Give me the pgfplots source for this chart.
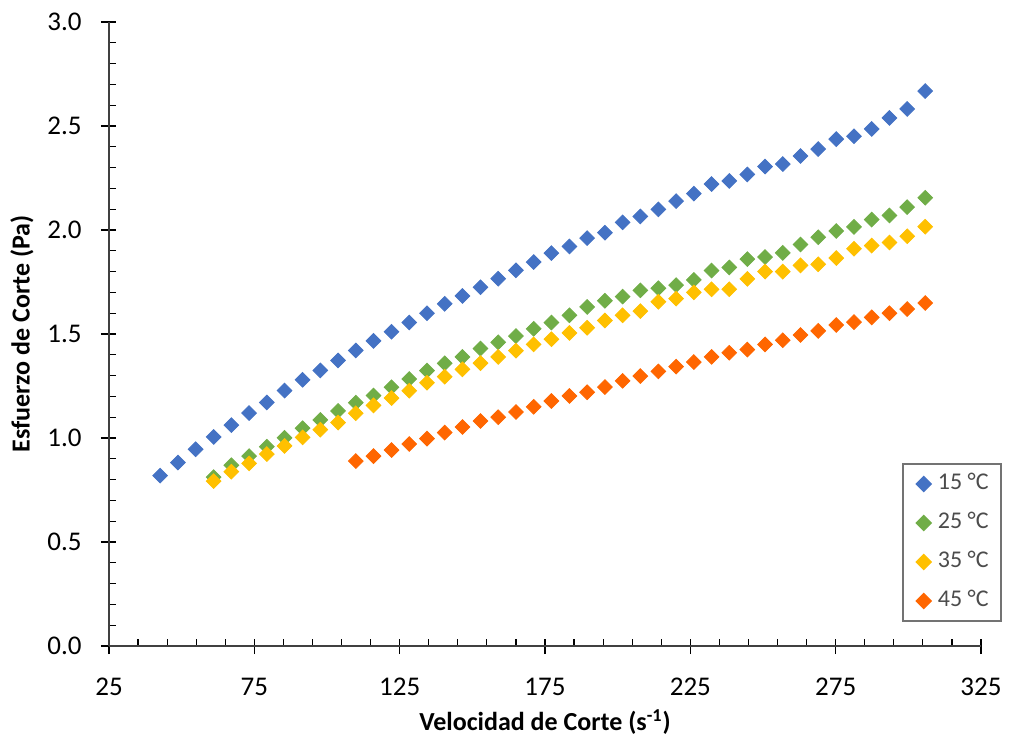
\documentclass[border=0pt]{standalone}
\usepackage{pgfplots}
\pgfplotsset{compat=1.18}
\usepackage{pgfplotstable}
\usepackage{fontspec}
\setmainfont{Carlito}

\definecolor{c15}{HTML}{4472C4}
\definecolor{c25}{HTML}{70AD47}
\definecolor{c35}{HTML}{FFC000}
\definecolor{c45}{HTML}{FF6600}

% Shear rate (1/s) vs. shear stress (Pa)
\pgfplotstableread{
x y
42.6 0.819
48.7 0.882
54.8 0.946
61.0 1.005
67.1 1.062
73.2 1.120
79.3 1.171
85.4 1.228
91.6 1.280
97.7 1.325
103.8 1.373
109.9 1.421
116.0 1.467
122.2 1.511
128.3 1.555
134.4 1.600
140.5 1.645
146.6 1.683
152.8 1.725
158.9 1.766
165.0 1.806
171.1 1.846
177.2 1.889
183.4 1.921
189.5 1.961
195.6 1.987
201.7 2.037
207.8 2.065
214.0 2.099
220.1 2.139
226.2 2.175
232.3 2.221
238.4 2.236
244.6 2.267
250.7 2.305
256.8 2.317
262.9 2.356
269.0 2.389
275.2 2.437
281.3 2.451
287.4 2.486
293.5 2.539
299.6 2.582
305.8 2.668
}\tabA

\pgfplotstableread{
x y
61.0 0.812
67.1 0.869
73.2 0.913
79.3 0.958
85.4 1.001
91.6 1.047
97.7 1.087
103.8 1.130
109.9 1.170
116.0 1.204
122.2 1.244
128.3 1.284
134.4 1.324
140.5 1.359
146.6 1.390
152.8 1.430
158.9 1.460
165.0 1.490
171.1 1.525
177.2 1.555
183.4 1.590
189.5 1.630
195.6 1.660
201.7 1.680
207.8 1.710
214.0 1.720
220.1 1.735
226.2 1.760
232.3 1.805
238.4 1.820
244.6 1.860
250.7 1.870
256.8 1.890
262.9 1.930
269.0 1.965
275.2 1.995
281.3 2.015
287.4 2.050
293.5 2.070
299.6 2.110
305.8 2.155
}\tabB

\pgfplotstableread{
x y
61.0 0.793
67.1 0.838
73.2 0.878
79.3 0.923
85.4 0.962
91.6 1.003
97.7 1.040
103.8 1.074
109.9 1.119
116.0 1.157
122.2 1.192
128.3 1.227
134.4 1.266
140.5 1.295
146.6 1.330
152.8 1.360
158.9 1.390
165.0 1.420
171.1 1.450
177.2 1.475
183.4 1.505
189.5 1.530
195.6 1.565
201.7 1.590
207.8 1.610
214.0 1.655
220.1 1.670
226.2 1.700
232.3 1.715
238.4 1.715
244.6 1.765
250.7 1.800
256.8 1.800
262.9 1.830
269.0 1.835
275.2 1.865
281.3 1.910
287.4 1.925
293.5 1.940
299.6 1.970
305.8 2.016
}\tabC

\pgfplotstableread{
x y
109.9 0.889
116.0 0.913
122.2 0.942
128.3 0.971
134.4 0.997
140.5 1.026
146.6 1.053
152.8 1.082
158.9 1.100
165.0 1.125
171.1 1.150
177.2 1.178
183.4 1.202
189.5 1.220
195.6 1.245
201.7 1.275
207.8 1.298
214.0 1.320
220.1 1.343
226.2 1.365
232.3 1.390
238.4 1.410
244.6 1.425
250.7 1.450
256.8 1.470
262.9 1.495
269.0 1.515
275.2 1.543
281.3 1.557
287.4 1.580
293.5 1.600
299.6 1.620
305.8 1.649
}\tabD

\pgfplotsset{
  frame/.style={
    at={(0,0)}, anchor=south west,
    scale only axis, width=436pt, height=312pt,
    xmin=25, xmax=325, ymin=0, ymax=3,
    axis lines=left,
    xtick={25,75,...,325},
    ytick={0,0.5,...,3},
    tick style={black, line width=0.6pt},
  },
}

\begin{document}
\begin{tikzpicture}
\useasboundingbox (-54.5pt,-47pt) rectangle (450.5pt,323pt);
% outer halves of the major ticks
\begin{axis}[
  frame,
  axis line style={draw=none},
  tick align=outside,
  major tick length=4pt,
  minor tick num=0,
  xticklabels={}, yticklabels={},
]
\end{axis}
\begin{axis}[
  frame,
  axis line style={-, black!75, line width=0.7pt},
  minor x tick num=4,
  minor y tick num=4,
  tick align=inside,
  major tick length=3.5pt,
  minor tick length=3.5pt,
  /pgf/number format/assume math mode=true,
  y tick label style={/pgf/number format/fixed, /pgf/number format/fixed zerofill, /pgf/number format/precision=1},
  xticklabel style={font=\fontsize{13.5}{16}\selectfont, anchor=base, inner sep=0pt, yshift=-24.5pt},
  yticklabel style={font=\fontsize{13.5}{16}\selectfont, anchor=east, inner sep=0pt, xshift=-13.5pt},
  xlabel={\textbf{Velocidad de Corte (s\textsuperscript{-1})}},
  ylabel={\textbf{Esfuerzo de Corte (Pa)}},
  every axis x label/.style={at={(axis description cs:0.5,0)}, anchor=center, yshift=-38pt, font=\fontsize{13}{15}\selectfont},
  every axis y label/.style={at={(axis description cs:0,0.5)}, anchor=center, rotate=90, yshift=43.5pt, font=\fontsize{13}{15}\selectfont},
  legend style={at={(axis description cs:1.024,0.293)}, anchor=north east,
    draw=black!55, line width=0.75pt, fill=white,
    font=\fontsize{12}{14}\selectfont, text=black!70,
    inner xsep=6.3pt, inner ysep=4pt, row sep=7.5pt,
    nodes={inner sep=0pt, text height=9pt, text depth=3pt}},
  legend cell align=left,
  legend image code/.code={\draw[#1] plot coordinates {(0pt,0pt)}; \path (-3.7pt,0pt) (6.7pt,0pt);},
  every axis plot/.append style={only marks, mark=square*, mark size=2.6pt},
]
\addplot[color=c15, mark options={rotate=45, draw=none, fill=c15}] table {\tabA};
\addlegendentry{15 °C}
\addplot[color=c25, mark options={rotate=45, draw=none, fill=c25}] table {\tabB};
\addlegendentry{25 °C}
\addplot[color=c35, mark options={rotate=45, draw=none, fill=c35}] table {\tabC};
\addlegendentry{35 °C}
\addplot[color=c45, mark options={rotate=45, draw=none, fill=c45}] table {\tabD};
\addlegendentry{45 °C}
\end{axis}
\end{tikzpicture}
\end{document}
